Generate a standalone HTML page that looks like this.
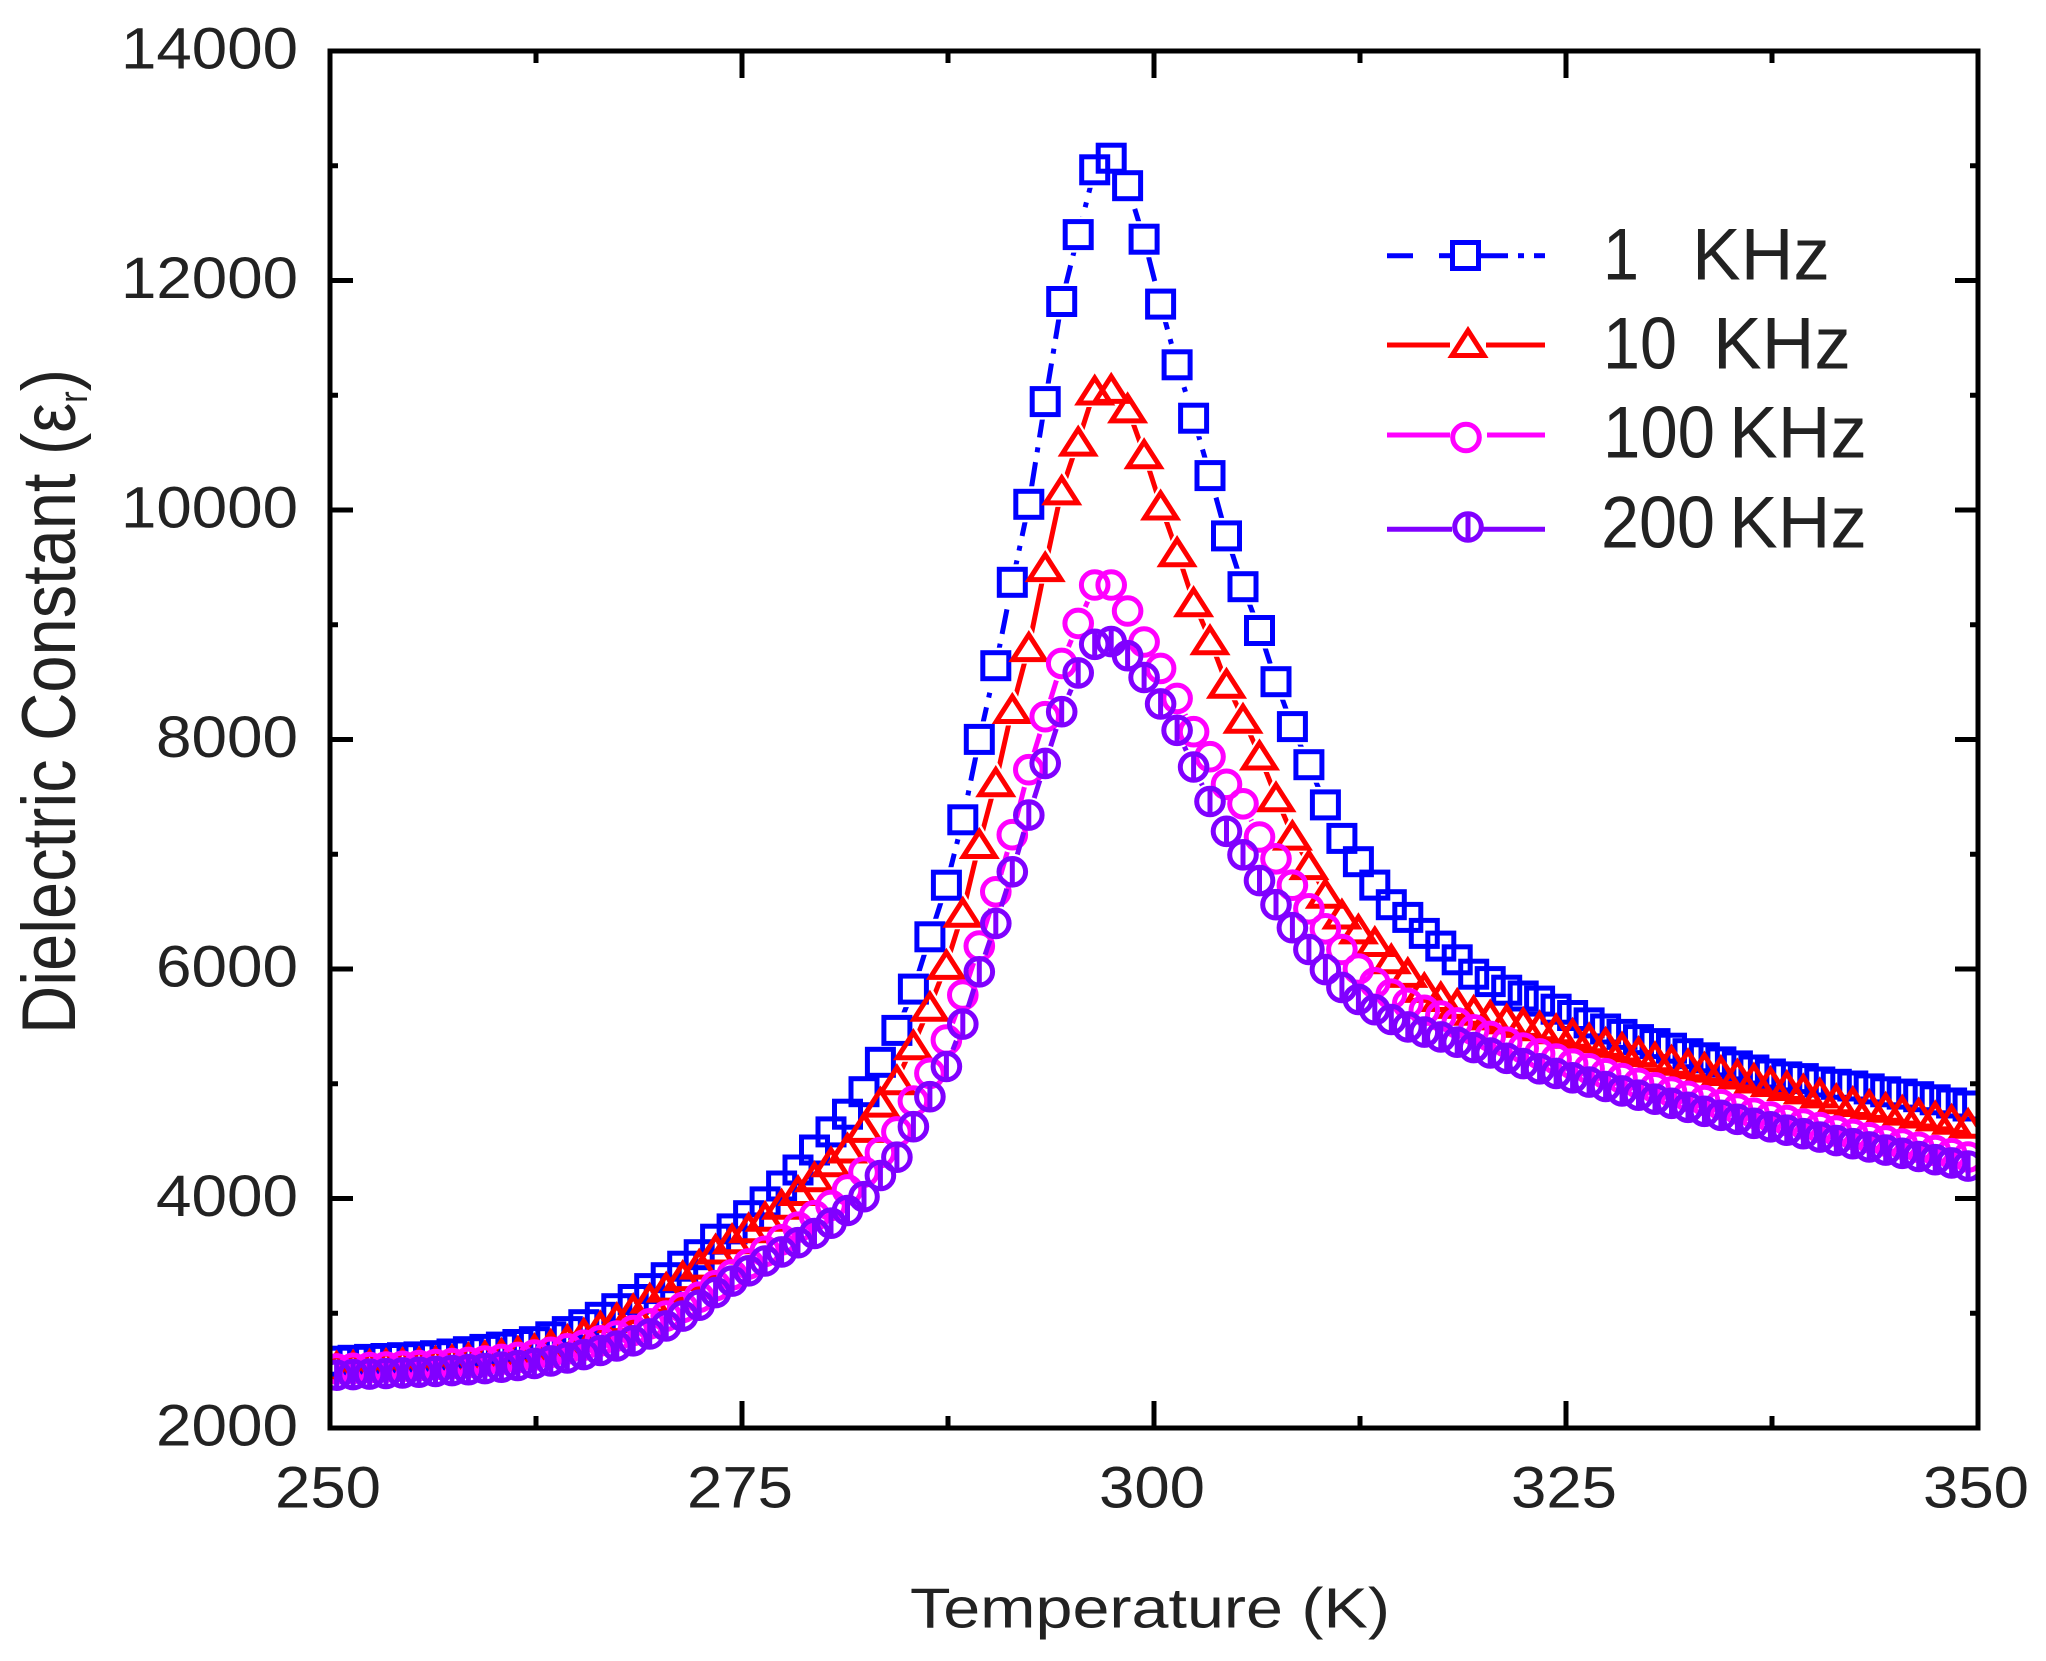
<!DOCTYPE html>
<html>
<head>
<meta charset="utf-8">
<style>
html,body{margin:0;padding:0;background:#fff;}
svg{display:block;}
text{font-family:"Liberation Sans",Arial,sans-serif;fill:#222;}
</style>
</head>
<body>
<svg width="2046" height="1661" viewBox="0 0 2046 1661" xmlns="http://www.w3.org/2000/svg" xmlns:xlink="http://www.w3.org/1999/xlink">
<defs>
<clipPath id="plotclip"><rect x="330" y="51" width="1648" height="1377"/></clipPath>

<polyline id="pB" points="336.6,1361.2 353.1,1360.3 369.6,1359.4 386.0,1358.5 402.5,1357.7 419.0,1356.9 435.5,1355.7 452.0,1354.0 468.4,1351.7 484.9,1349.4 501.4,1347.1 517.9,1344.5 534.4,1341.7 550.8,1336.8 567.3,1331.6 583.8,1324.7 600.3,1317.3 616.8,1308.7 633.2,1299.5 649.7,1288.6 666.2,1277.7 682.7,1266.2 699.2,1254.7 715.6,1239.2 732.1,1228.9 748.6,1215.7 765.1,1201.9 781.6,1186.0 798.0,1170.0 814.5,1150.0 831.0,1131.9 847.5,1114.2 864.0,1091.7 880.4,1062.3 896.9,1030.4 913.4,989.1 929.9,936.8 946.4,885.2 962.8,819.8 979.3,739.4 995.8,665.7 1012.3,582.3 1028.8,504.3 1045.2,401.6 1061.7,301.5 1078.2,234.6 1094.7,169.8 1111.2,158.2 1127.6,185.7 1144.1,239.2 1160.6,304.1 1177.1,364.8 1193.6,418.2 1210.0,475.6 1226.5,535.9 1243.0,586.7 1259.5,630.5 1276.0,681.7 1292.4,726.6 1308.9,764.7 1325.4,804.9 1341.9,838.4 1358.4,861.7 1374.8,885.1 1391.3,904.7 1407.8,917.4 1424.3,933.4 1440.8,946.1 1457.2,959.8 1473.7,974.2 1490.2,981.6 1506.7,990.2 1523.2,996.0 1539.6,1001.1 1556.1,1009.2 1572.6,1015.5 1589.1,1022.9 1605.6,1029.0 1622.0,1034.4 1638.5,1039.6 1655.0,1043.6 1671.5,1048.2 1688.0,1053.7 1704.4,1057.8 1720.9,1061.9 1737.4,1065.9 1753.9,1070.0 1770.4,1074.0 1786.8,1076.9 1803.3,1078.6 1819.8,1082.0 1836.3,1084.3 1852.8,1086.0 1869.2,1088.9 1885.7,1091.8 1902.2,1094.1 1918.7,1096.7 1935.2,1099.8 1951.6,1103.0 1968.1,1106.0"/>

<polyline id="pR" points="336.6,1366.0 353.1,1365.2 369.6,1364.3 386.0,1363.5 402.5,1362.7 419.0,1362.0 435.5,1361.1 452.0,1359.7 468.4,1357.7 484.9,1355.5 501.4,1353.4 517.9,1351.1 534.4,1348.6 550.8,1344.2 567.3,1339.4 583.8,1333.0 600.3,1325.9 616.8,1317.6 633.2,1308.7 649.7,1298.1 666.2,1287.1 682.7,1275.6 699.2,1264.1 715.6,1249.0 732.1,1238.7 748.6,1227.8 765.1,1216.3 781.6,1204.2 798.0,1190.5 814.5,1176.7 831.0,1161.8 847.5,1148.0 864.0,1127.4 880.4,1102.1 896.9,1079.7 913.4,1044.7 929.9,1006.3 946.4,964.4 962.8,912.2 979.3,843.5 995.8,781.7 1012.3,708.5 1028.8,646.6 1045.2,566.6 1061.7,489.9 1078.2,441.1 1094.7,390.0 1111.2,388.4 1127.6,407.9 1144.1,453.8 1160.6,505.0 1177.1,551.7 1193.6,601.7 1210.0,639.7 1226.5,683.3 1243.0,718.3 1259.5,755.0 1276.0,796.8 1292.4,835.1 1308.9,864.6 1325.4,893.3 1341.9,914.0 1358.4,928.9 1374.8,941.5 1391.3,958.7 1407.8,972.4 1424.3,987.4 1440.8,996.5 1457.2,1003.4 1473.7,1010.3 1490.2,1014.9 1506.7,1018.9 1523.2,1022.4 1539.6,1025.8 1556.1,1028.7 1572.6,1033.3 1589.1,1037.8 1605.6,1042.4 1622.0,1047.0 1638.5,1051.6 1655.0,1056.7 1671.5,1060.2 1688.0,1063.7 1704.4,1067.1 1720.9,1070.5 1737.4,1074.0 1753.9,1078.0 1770.4,1081.5 1786.8,1085.5 1803.3,1088.9 1819.8,1092.9 1836.3,1098.7 1852.8,1101.5 1869.2,1104.4 1885.7,1107.3 1902.2,1110.1 1918.7,1113.0 1935.2,1115.9 1951.6,1119.3 1968.1,1123.3"/>

<polyline id="pM" points="336.6,1368.9 353.1,1368.3 369.6,1367.6 386.0,1367.0 402.5,1366.3 419.0,1365.5 435.5,1364.5 452.0,1363.5 468.4,1362.4 484.9,1361.0 501.4,1359.4 517.9,1357.4 534.4,1355.1 550.8,1352.3 567.3,1348.8 583.8,1345.2 600.3,1340.8 616.8,1336.0 633.2,1330.5 649.7,1323.8 666.2,1316.1 682.7,1307.5 699.2,1297.2 715.6,1285.7 732.1,1274.8 748.6,1263.9 765.1,1251.3 781.6,1239.8 798.0,1227.2 814.5,1215.7 831.0,1205.4 847.5,1189.9 864.0,1172.1 880.4,1152.6 896.9,1131.9 913.4,1101.0 929.9,1073.3 946.4,1040.0 962.8,995.0 979.3,946.0 995.8,891.8 1012.3,834.7 1028.8,769.7 1045.2,716.7 1061.7,663.4 1078.2,623.4 1094.7,585.0 1111.2,585.0 1127.6,611.0 1144.1,642.0 1160.6,668.4 1177.1,698.4 1193.6,731.7 1210.0,756.7 1226.5,784.3 1243.0,803.8 1259.5,837.0 1276.0,858.8 1292.4,885.2 1308.9,908.8 1325.4,928.8 1341.9,949.5 1358.4,969.0 1374.8,982.8 1391.3,994.2 1407.8,1003.4 1424.3,1010.3 1440.8,1016.0 1457.2,1022.9 1473.7,1029.8 1490.2,1036.4 1506.7,1042.2 1523.2,1048.1 1539.6,1053.9 1556.1,1059.1 1572.6,1064.0 1589.1,1068.8 1605.6,1073.7 1622.0,1078.5 1638.5,1083.3 1655.0,1087.8 1671.5,1092.0 1688.0,1096.3 1704.4,1100.5 1720.9,1104.7 1737.4,1109.0 1753.9,1113.2 1770.4,1116.9 1786.8,1120.5 1803.3,1124.0 1819.8,1127.6 1836.3,1131.1 1852.8,1134.4 1869.2,1137.7 1885.7,1140.9 1902.2,1144.1 1918.7,1147.3 1935.2,1150.5 1951.6,1153.7 1968.1,1157.0"/>

<polyline id="pP" points="336.6,1375.2 353.1,1374.6 369.6,1374.1 386.0,1373.5 402.5,1372.9 419.0,1372.2 435.5,1371.4 452.0,1370.6 468.4,1369.7 484.9,1368.6 501.4,1367.2 517.9,1365.5 534.4,1363.4 550.8,1360.9 567.3,1358.0 583.8,1354.6 600.3,1350.5 616.8,1346.0 633.2,1340.8 649.7,1333.9 666.2,1325.9 682.7,1316.1 699.2,1305.2 715.6,1292.6 732.1,1281.1 748.6,1270.8 765.1,1261.0 781.6,1251.9 798.0,1242.7 814.5,1233.5 831.0,1223.2 847.5,1210.5 864.0,1196.7 880.4,1175.5 896.9,1157.2 913.4,1126.7 929.9,1096.7 946.4,1066.5 962.8,1024.1 979.3,971.8 995.8,923.4 1012.3,871.8 1028.8,815.1 1045.2,763.4 1061.7,711.7 1078.2,672.9 1094.7,644.3 1111.2,641.6 1127.6,655.7 1144.1,677.5 1160.6,703.9 1177.1,730.3 1193.6,767.0 1210.0,801.5 1226.5,831.3 1243.0,854.8 1259.5,880.6 1276.0,904.7 1292.4,927.7 1308.9,949.5 1325.4,969.6 1341.9,987.4 1358.4,999.4 1374.8,1009.7 1391.3,1019.5 1407.8,1026.9 1424.3,1032.1 1440.8,1036.9 1457.2,1042.2 1473.7,1047.6 1490.2,1053.0 1506.7,1058.3 1523.2,1063.6 1539.6,1068.8 1556.1,1073.4 1572.6,1077.8 1589.1,1082.1 1605.6,1086.5 1622.0,1090.9 1638.5,1095.2 1655.0,1099.2 1671.5,1103.3 1688.0,1107.3 1704.4,1111.3 1720.9,1115.3 1737.4,1119.3 1753.9,1123.3 1770.4,1126.8 1786.8,1130.2 1803.3,1133.7 1819.8,1137.1 1836.3,1140.6 1852.8,1143.7 1869.2,1146.9 1885.7,1150.1 1902.2,1153.3 1918.7,1156.5 1935.2,1159.7 1951.6,1162.9 1968.1,1166.1"/>

<marker id="mB" markerUnits="userSpaceOnUse" markerWidth="60" markerHeight="60" refX="30" refY="30">
  <rect x="17" y="17" width="26" height="26" fill="none" stroke="#0000ff" stroke-width="5"/>
</marker>
<marker id="mR" markerUnits="userSpaceOnUse" markerWidth="60" markerHeight="60" refX="30" refY="30">
  <path d="M30 18 L46 43 L14 43 Z" fill="none" stroke="#ff0000" stroke-width="5" stroke-linejoin="miter"/>
</marker>
<marker id="mM" markerUnits="userSpaceOnUse" markerWidth="60" markerHeight="60" refX="30" refY="30">
  <circle cx="30" cy="30" r="13.3" fill="none" stroke="#ff00ff" stroke-width="5"/>
</marker>
<marker id="mP" markerUnits="userSpaceOnUse" markerWidth="60" markerHeight="60" refX="30" refY="30">
  <circle cx="30" cy="30" r="13.3" fill="none" stroke="#8000ff" stroke-width="5"/>
  <line x1="30" y1="15" x2="30" y2="45" stroke="#8000ff" stroke-width="5"/>
</marker>

<marker id="kB" markerUnits="userSpaceOnUse" markerWidth="60" markerHeight="60" refX="30" refY="30">
  <rect x="12" y="12" width="36" height="36" fill="#000"/>
</marker>
<marker id="kR" markerUnits="userSpaceOnUse" markerWidth="60" markerHeight="60" refX="30" refY="30">
  <path d="M30 8 L52 47 L8 47 Z" fill="#000"/>
</marker>
<marker id="kC" markerUnits="userSpaceOnUse" markerWidth="60" markerHeight="60" refX="30" refY="30">
  <circle cx="30" cy="30" r="18" fill="#000"/>
</marker>

<mask id="maskB" maskUnits="userSpaceOnUse" x="0" y="0" width="2046" height="1661">
  <rect x="0" y="0" width="2046" height="1661" fill="#fff"/>
  <use xlink:href="#pB" href="#pB" fill="none" stroke="none" marker-start="url(#kB)" marker-mid="url(#kB)" marker-end="url(#kB)"/>
</mask>
<mask id="maskR" maskUnits="userSpaceOnUse" x="0" y="0" width="2046" height="1661">
  <rect x="0" y="0" width="2046" height="1661" fill="#fff"/>
  <use xlink:href="#pR" href="#pR" fill="none" stroke="none" marker-start="url(#kR)" marker-mid="url(#kR)" marker-end="url(#kR)"/>
</mask>
<mask id="maskM" maskUnits="userSpaceOnUse" x="0" y="0" width="2046" height="1661">
  <rect x="0" y="0" width="2046" height="1661" fill="#fff"/>
  <use xlink:href="#pM" href="#pM" fill="none" stroke="none" marker-start="url(#kC)" marker-mid="url(#kC)" marker-end="url(#kC)"/>
</mask>
<mask id="maskP" maskUnits="userSpaceOnUse" x="0" y="0" width="2046" height="1661">
  <rect x="0" y="0" width="2046" height="1661" fill="#fff"/>
  <use xlink:href="#pP" href="#pP" fill="none" stroke="none" marker-start="url(#kC)" marker-mid="url(#kC)" marker-end="url(#kC)"/>
</mask>
</defs>

<rect x="0" y="0" width="2046" height="1661" fill="#fff"/>

<g clip-path="url(#plotclip)">
  <use xlink:href="#pB" href="#pB" fill="none" stroke="#0000ff" stroke-width="5" stroke-dasharray="25 10 5 10" mask="url(#maskB)"/>
  <use xlink:href="#pB" href="#pB" fill="none" stroke="none" marker-start="url(#mB)" marker-mid="url(#mB)" marker-end="url(#mB)"/>
  <use xlink:href="#pR" href="#pR" fill="none" stroke="#ff0000" stroke-width="5" mask="url(#maskR)"/>
  <use xlink:href="#pR" href="#pR" fill="none" stroke="none" marker-start="url(#mR)" marker-mid="url(#mR)" marker-end="url(#mR)"/>
  <use xlink:href="#pM" href="#pM" fill="none" stroke="#ff00ff" stroke-width="5" mask="url(#maskM)"/>
  <use xlink:href="#pM" href="#pM" fill="none" stroke="none" marker-start="url(#mM)" marker-mid="url(#mM)" marker-end="url(#mM)"/>
  <use xlink:href="#pP" href="#pP" fill="none" stroke="#8000ff" stroke-width="5" mask="url(#maskP)"/>
  <use xlink:href="#pP" href="#pP" fill="none" stroke="none" marker-start="url(#mP)" marker-mid="url(#mP)" marker-end="url(#mP)"/>
</g>

<rect x="330" y="51" width="1648" height="1377" fill="none" stroke="#000" stroke-width="5"/>

<g stroke="#000" stroke-width="5">
  <line x1="742" y1="1428" x2="742" y2="1401"/>
  <line x1="1154" y1="1428" x2="1154" y2="1401"/>
  <line x1="1566" y1="1428" x2="1566" y2="1401"/>
  <line x1="536" y1="1428" x2="536" y2="1416"/>
  <line x1="948" y1="1428" x2="948" y2="1416"/>
  <line x1="1360" y1="1428" x2="1360" y2="1416"/>
  <line x1="1772" y1="1428" x2="1772" y2="1416"/>
  <line x1="742" y1="51" x2="742" y2="78"/>
  <line x1="1154" y1="51" x2="1154" y2="78"/>
  <line x1="1566" y1="51" x2="1566" y2="78"/>
  <line x1="536" y1="51" x2="536" y2="63"/>
  <line x1="948" y1="51" x2="948" y2="63"/>
  <line x1="1360" y1="51" x2="1360" y2="63"/>
  <line x1="1772" y1="51" x2="1772" y2="63"/>
  <line x1="330" y1="1198.5" x2="353" y2="1198.5"/>
  <line x1="330" y1="969" x2="353" y2="969"/>
  <line x1="330" y1="739.5" x2="353" y2="739.5"/>
  <line x1="330" y1="510" x2="353" y2="510"/>
  <line x1="330" y1="280.5" x2="353" y2="280.5"/>
  <line x1="330" y1="1313.25" x2="338" y2="1313.25"/>
  <line x1="330" y1="1083.75" x2="338" y2="1083.75"/>
  <line x1="330" y1="854.25" x2="338" y2="854.25"/>
  <line x1="330" y1="624.75" x2="338" y2="624.75"/>
  <line x1="330" y1="395.25" x2="338" y2="395.25"/>
  <line x1="330" y1="165.75" x2="338" y2="165.75"/>
  <line x1="1978" y1="1198.5" x2="1955" y2="1198.5"/>
  <line x1="1978" y1="969" x2="1955" y2="969"/>
  <line x1="1978" y1="739.5" x2="1955" y2="739.5"/>
  <line x1="1978" y1="510" x2="1955" y2="510"/>
  <line x1="1978" y1="280.5" x2="1955" y2="280.5"/>
  <line x1="1978" y1="1313.25" x2="1970" y2="1313.25"/>
  <line x1="1978" y1="1083.75" x2="1970" y2="1083.75"/>
  <line x1="1978" y1="854.25" x2="1970" y2="854.25"/>
  <line x1="1978" y1="624.75" x2="1970" y2="624.75"/>
  <line x1="1978" y1="395.25" x2="1970" y2="395.25"/>
  <line x1="1978" y1="165.75" x2="1970" y2="165.75"/>
</g>

<g font-size="58" text-anchor="end">
  <text x="298" y="68.5" textLength="177" lengthAdjust="spacingAndGlyphs">14000</text>
  <text x="298" y="298" textLength="177" lengthAdjust="spacingAndGlyphs">12000</text>
  <text x="298" y="527.5" textLength="177" lengthAdjust="spacingAndGlyphs">10000</text>
  <text x="298" y="757" textLength="142" lengthAdjust="spacingAndGlyphs">8000</text>
  <text x="298" y="986.5" textLength="142" lengthAdjust="spacingAndGlyphs">6000</text>
  <text x="298" y="1216" textLength="142" lengthAdjust="spacingAndGlyphs">4000</text>
  <text x="298" y="1445.5" textLength="142" lengthAdjust="spacingAndGlyphs">2000</text>
</g>

<g font-size="58" text-anchor="middle">
  <text x="328" y="1507.7" textLength="106" lengthAdjust="spacingAndGlyphs">250</text>
  <text x="740" y="1507.7" textLength="106" lengthAdjust="spacingAndGlyphs">275</text>
  <text x="1152" y="1507.7" textLength="106" lengthAdjust="spacingAndGlyphs">300</text>
  <text x="1564" y="1507.7" textLength="106" lengthAdjust="spacingAndGlyphs">325</text>
  <text x="1976" y="1507.7" textLength="106" lengthAdjust="spacingAndGlyphs">350</text>
</g>

<text x="910" y="1627.7" font-size="57" textLength="480" lengthAdjust="spacingAndGlyphs">Temperature (K)</text>
<text transform="translate(75,701.5) rotate(-90)" text-anchor="middle" font-size="76" textLength="665" lengthAdjust="spacingAndGlyphs">Dielectric Constant (ε<tspan font-size="40" dy="12">r</tspan><tspan dy="-12">)</tspan></text>

<g stroke-width="5" fill="none">
  <g stroke="#0000ff">
    <line x1="1387" y1="255.7" x2="1413" y2="255.7"/>
    <line x1="1439" y1="255.7" x2="1450" y2="255.7"/>
    <line x1="1481" y1="255.7" x2="1508" y2="255.7"/>
    <line x1="1518" y1="255.7" x2="1524" y2="255.7"/>
    <line x1="1534" y1="255.7" x2="1545" y2="255.7"/>
    <rect x="1452.5" y="242.5" width="26" height="26"/>
  </g>
  <g stroke="#ff0000">
    <line x1="1387" y1="345" x2="1450" y2="345"/>
    <line x1="1486" y1="345" x2="1545" y2="345"/>
    <path d="M1468 330.5 L1484 355.5 L1452 355.5 Z" stroke-linejoin="miter"/>
  </g>
  <g stroke="#ff00ff">
    <line x1="1387" y1="435" x2="1450" y2="435"/>
    <line x1="1487" y1="435" x2="1545" y2="435"/>
    <circle cx="1466" cy="437.5" r="13.3"/>
  </g>
  <g stroke="#8000ff">
    <line x1="1387" y1="529.3" x2="1452" y2="529.3"/>
    <line x1="1483" y1="529.3" x2="1545" y2="529.3"/>
    <circle cx="1468" cy="527" r="13.3"/>
    <line x1="1468" y1="512" x2="1468" y2="542"/>
  </g>
</g>
<g font-size="73">
  <text x="1603" y="279.3" textLength="36" lengthAdjust="spacingAndGlyphs">1</text>
  <text x="1692" y="279.3">KHz</text>
  <text x="1603" y="368.3" textLength="74" lengthAdjust="spacingAndGlyphs">10</text>
  <text x="1713" y="368.3">KHz</text>
  <text x="1603" y="457.7" textLength="112" lengthAdjust="spacingAndGlyphs">100</text>
  <text x="1729" y="457.7">KHz</text>
  <text x="1601" y="547.7" textLength="114" lengthAdjust="spacingAndGlyphs">200</text>
  <text x="1729" y="547.7">KHz</text>
</g>
</svg>
</body>
</html>
